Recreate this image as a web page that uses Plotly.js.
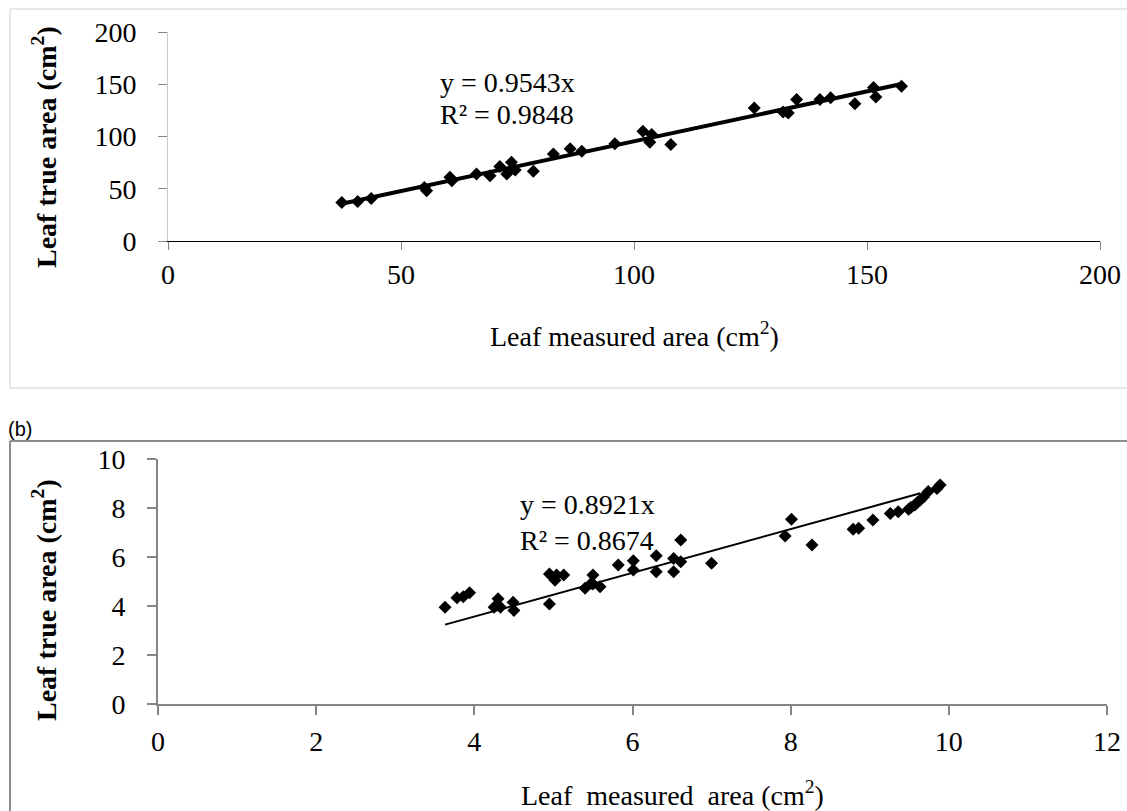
<!DOCTYPE html>
<html>
<head>
<meta charset="utf-8">
<script src="https://cdn.plot.ly/plotly-3.0.1.min.js"></script>
<style>
html,body{margin:0;padding:0;background:#fff;}
#chart{width:1127px;height:811px;}
</style>
</head>
<body>
<div id="chart"></div>
<script>
// ---- Data: panel (a) ----
var measuredA = [37.3,40.7,43.6,55.0,55.5,60.5,60.9,66.2,69.1,71.2,72.7,73.7,74.5,78.4,82.7,86.3,88.8,95.9,101.9,103.8,103.4,107.9,125.8,132.0,133.1,134.9,139.9,142.2,147.4,151.4,151.9,157.4];
var trueA     = [36.8,37.8,40.7,51.3,48.1,60.9,57.7,64.1,62.5,71.2,64.1,75.3,68.0,66.7,83.3,88.2,85.9,93.0,105.1,101.9,94.5,92.3,127.2,123.4,122.4,135.3,135.3,137.2,131.4,146.8,137.8,148.1];
var slopeA = 0.9543, r2A = 0.9848;
var fitXA = [37.3, 157.4];

// ---- Data: panel (b) ----
var measuredB = [3.63,3.78,3.86,3.94,4.25,4.30,4.33,4.49,4.50,4.95,4.95,5.02,5.04,5.13,5.40,5.48,5.50,5.50,5.59,5.82,6.01,6.01,6.30,6.30,6.52,6.52,6.61,6.61,7.00,7.93,8.01,8.27,8.79,8.86,9.04,9.26,9.36,9.49,9.52,9.57,9.60,9.64,9.68,9.74,9.85,9.89];
var trueB     = [3.95,4.34,4.38,4.54,3.95,4.30,3.95,4.15,3.82,5.31,4.08,5.05,5.27,5.27,4.72,4.93,5.27,4.90,4.79,5.67,5.85,5.47,6.05,5.40,5.94,5.40,6.69,5.81,5.74,6.86,7.54,6.49,7.13,7.17,7.51,7.78,7.85,7.95,8.02,8.12,8.22,8.33,8.45,8.67,8.80,8.94];
var slopeB = 0.8921, r2B = 0.8674;
var fitXB = [3.63, 9.64];

var ticksA = [0,50,100,150,200];
var ticksBx = [0,2,4,6,8,10,12];
var ticksBy = [0,2,4,6,8,10];

var W = 1127, H = 811;
function px(x){return x/W;}
function py(y){return 1 - y/H;}

var serif = 'Liberation Serif';
function tf(){ return {family: serif, size: 28, color:'#000'}; }

var traces = [
  {x: measuredA, y: trueA, type:'scatter', mode:'markers', xaxis:'x', yaxis:'y',
   marker:{symbol:'diamond', size:10, color:'#000'}},
  {x: fitXA, y: fitXA.map(function(v){return slopeA*v;}), type:'scatter', mode:'lines', xaxis:'x', yaxis:'y',
   line:{color:'#000', width:4}},
  {x: measuredB, y: trueB, type:'scatter', mode:'markers', xaxis:'x2', yaxis:'y2',
   marker:{symbol:'diamond', size:10, color:'#000'}},
  {x: fitXB, y: fitXB.map(function(v){return slopeB*v;}), type:'scatter', mode:'lines', xaxis:'x2', yaxis:'y2',
   line:{color:'#000', width:2}}
];

var layout = {
  width: W, height: H,
  margin: {l:0, r:0, t:0, b:0},
  paper_bgcolor:'#fff', plot_bgcolor:'rgba(0,0,0,0)',
  showlegend: false,
  xaxis: {domain:[px(168), px(1100)], range:[0,200], tickvals:ticksA,
          showgrid:false, zeroline:false, showline:true, linecolor:'#000', linewidth:1,
          ticks:'outside', ticklen:8, tickcolor:'#888', tickwidth:1, tickfont:tf(), anchor:'y', ticklabelstandoff:0},
  yaxis: {domain:[py(241), py(32)], range:[0,200], tickvals:ticksA,
          showgrid:false, zeroline:false, showline:true, linecolor:'#c8c8c8', linewidth:1,
          ticks:'outside', ticklen:9, tickcolor:'#888', tickwidth:1, tickfont:tf(), anchor:'x', ticklabelstandoff:16},
  xaxis2: {domain:[px(158), px(1107)], range:[0,12], tickvals:ticksBx,
          showgrid:false, zeroline:false, showline:true, linecolor:'#868686', linewidth:2,
          ticks:'outside', ticklen:9, tickcolor:'#868686', tickwidth:2, tickfont:tf(), anchor:'y2', ticklabelstandoff:2},
  yaxis2: {domain:[py(704), py(459)], range:[0,10], tickvals:ticksBy,
          showgrid:false, zeroline:false, showline:true, linecolor:'#868686', linewidth:2,
          ticks:'outside', ticklen:9, tickcolor:'#868686', tickwidth:2, tickfont:tf(), anchor:'x2', ticklabelstandoff:16},
  shapes: [
    {type:'rect', xref:'paper', yref:'paper', x0:px(10), x1:px(1135), y0:py(388), y1:py(9),
     line:{color:'#d0d0d0', width:1}, fillcolor:'rgba(0,0,0,0)', layer:'below'},
    {type:'line', xref:'paper', yref:'paper', x0:px(10), x1:px(1135), y0:py(441), y1:py(441),
     line:{color:'#8c8c8c', width:2}},
    {type:'line', xref:'paper', yref:'paper', x0:px(10), x1:px(10), y0:py(441), y1:py(815),
     line:{color:'#8c8c8c', width:2}}
  ],
  annotations: [
    {xref:'paper', yref:'paper', x:px(44), y:py(147), text:'<b>Leaf true area (cm<sup>2</sup>)</b>', textangle:-90,
     showarrow:false, font:{family:serif, size:28, color:'#000'}, xanchor:'center', yanchor:'middle'},
    {xref:'paper', yref:'paper', x:px(634), y:py(335), text:'Leaf measured area (cm<sup>2</sup>)',
     showarrow:false, font:{family:serif, size:28, color:'#000'}, xanchor:'center', yanchor:'middle'},
    {xref:'paper', yref:'paper', x:px(438), y:py(83), text:'y = ' + slopeA + 'x',
     showarrow:false, font:{family:serif, size:28, color:'#000'}, xanchor:'left', yanchor:'middle'},
    {xref:'paper', yref:'paper', x:px(438), y:py(114), text:'R² = ' + r2A,
     showarrow:false, font:{family:serif, size:28, color:'#000'}, xanchor:'left', yanchor:'middle'},
    {xref:'paper', yref:'paper', x:px(44), y:py(600), text:'<b>Leaf true area (cm<sup>2</sup>)</b>', textangle:-90,
     showarrow:false, font:{family:serif, size:28, color:'#000'}, xanchor:'center', yanchor:'middle'},
    {xref:'paper', yref:'paper', x:px(672), y:py(793), text:'Leaf  measured  area (cm<sup>2</sup>)',
     showarrow:false, font:{family:serif, size:28, color:'#000'}, xanchor:'center', yanchor:'middle'},
    {xref:'paper', yref:'paper', x:px(518), y:py(505), text:'y = ' + slopeB + 'x',
     showarrow:false, font:{family:serif, size:28, color:'#000'}, xanchor:'left', yanchor:'middle'},
    {xref:'paper', yref:'paper', x:px(518), y:py(540), text:'R² = ' + r2B,
     showarrow:false, font:{family:serif, size:28, color:'#000'}, xanchor:'left', yanchor:'middle'},
    {xref:'paper', yref:'paper', x:px(6), y:py(442), text:'(b)',
     showarrow:false, font:{family:'Liberation Sans', size:20, color:'#000'}, xanchor:'left', yanchor:'bottom'}
  ]
};

Plotly.newPlot('chart', traces, layout, {displayModeBar:false, staticPlot:true});
</script>
</body>
</html>
